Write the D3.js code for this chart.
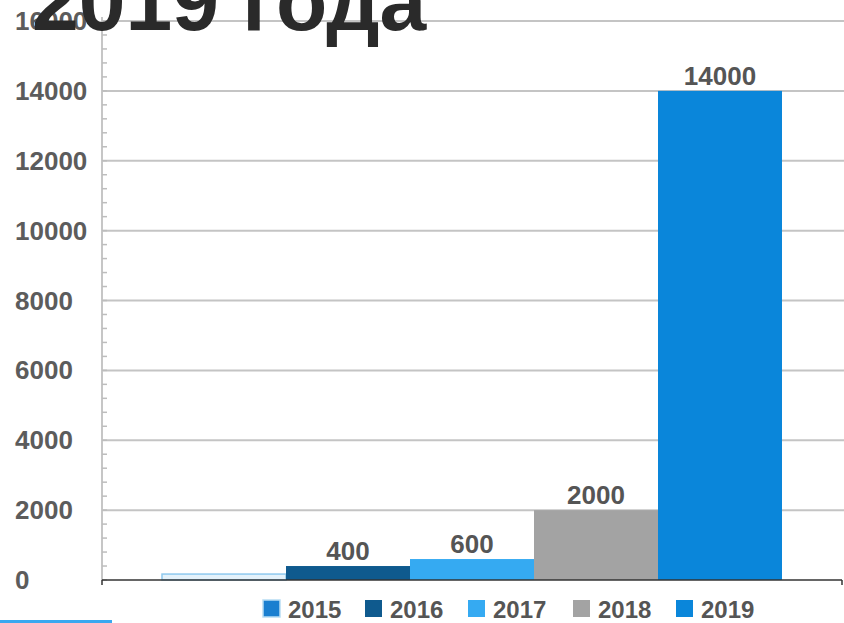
<!DOCTYPE html>
<html>
<head>
<meta charset="utf-8">
<script src="https://cdn.jsdelivr.net/npm/d3@7"></script>
<style>
  body { margin: 0; background: #fff; }
  svg { display: block; font-family: "Liberation Sans", Arial, sans-serif; }
</style>
</head>
<body>
<svg id="chart" width="844" height="623"></svg>
<script>
// Chart data
var years = ["2015", "2016", "2017", "2018", "2019"];
var values = [170, 400, 600, 2000, 14000];
var showLabel = [false, true, true, true, true];
var yTicks = [0, 2000, 4000, 6000, 8000, 10000, 12000, 14000, 16000];
var colors = ["#1a7fd0", "#0f5a8e", "#35aaf2", "#a3a3a3", "#0a86da"];

var svg = d3.select("#chart");

// Plot area (window.top is read-only, so use other names)
var pL = 102, pR = 842, pT = 21, pB = 580;

var yScale = d3.scaleLinear().domain([0, 16000]).range([pB, pT]);
var xScale = d3.scaleBand().domain(years).range([162, 782]).padding(0);

// Gridlines
svg.append("g").selectAll("line")
  .data(yTicks.filter(d => d > 0)).enter()
  .append("line")
  .attr("x1", pL).attr("x2", 844)
  .attr("y1", d => yScale(d)).attr("y2", d => yScale(d))
  .attr("stroke", "#c4c4c4").attr("stroke-width", 2);

// Y axis line and minor ticks
svg.append("line")
  .attr("x1", pL).attr("x2", pL)
  .attr("y1", pT - 4).attr("y2", pB)
  .attr("stroke", "#c6c6c6").attr("stroke-width", 2);

var minor = d3.range(0, 16001, 400);
svg.append("g").selectAll("line")
  .data(minor).enter()
  .append("line")
  .attr("x1", pL).attr("x2", pL + 5)
  .attr("y1", d => yScale(d)).attr("y2", d => yScale(d))
  .attr("stroke", "#bdbdbd").attr("stroke-width", 1.5);

// Y tick labels
svg.append("g").selectAll("text")
  .data(yTicks).enter()
  .append("text")
  .attr("x", 15)
  .attr("y", d => yScale(d) + 9)
  .attr("font-size", 26)
  .attr("font-weight", "bold")
  .attr("fill", "#5c5c5c")
  .text(d => d);

// Bars
svg.append("g").selectAll("rect")
  .data(years).enter()
  .append("rect")
  .attr("x", d => xScale(d))
  .attr("width", xScale.bandwidth())
  .attr("y", (d, i) => yScale(values[i]))
  .attr("height", (d, i) => pB - yScale(values[i]))
  .attr("fill", (d, i) => i === 0 ? "#e4f2fb" : colors[i])
  .attr("stroke", (d, i) => i === 0 ? "#8fc9ee" : "none")
  .attr("stroke-width", 1.5);

// Value labels
svg.append("g").selectAll("text")
  .data(years.filter((d, i) => showLabel[i])).enter()
  .append("text")
  .attr("x", d => xScale(d) + xScale.bandwidth() / 2)
  .attr("y", d => yScale(values[years.indexOf(d)]) - 6)
  .attr("text-anchor", "middle")
  .attr("font-size", 26)
  .attr("font-weight", "bold")
  .attr("fill", "#555")
  .text(d => values[years.indexOf(d)]);

// X axis line
svg.append("line")
  .attr("x1", pL).attr("x2", pR)
  .attr("y1", pB).attr("y2", pB)
  .attr("stroke", "#333").attr("stroke-width", 1.5);
svg.append("line")
  .attr("x1", pL).attr("x2", pL)
  .attr("y1", pB).attr("y2", pB + 5)
  .attr("stroke", "#333").attr("stroke-width", 1.5);
svg.append("line")
  .attr("x1", pR).attr("x2", pR)
  .attr("y1", pB).attr("y2", pB + 5)
  .attr("stroke", "#333").attr("stroke-width", 1.5);

// Legend
var legendX = [263, 365, 468, 573, 676];
var legend = svg.append("g").selectAll("g")
  .data(years).enter()
  .append("g")
  .attr("transform", (d, i) => `translate(${legendX[i]}, 600)`);

legend.append("rect")
  .attr("width", 17).attr("height", 17)
  .attr("fill", (d, i) => colors[i])
  .attr("stroke", (d, i) => i === 0 ? "#b8ddf4" : "none")
  .attr("stroke-width", 1.5);

legend.append("text")
  .attr("x", 25)
  .attr("y", 18)
  .attr("font-size", 24)
  .attr("font-weight", "bold")
  .attr("fill", "#555")
  .text(d => d);

// Title (cut off at top, as in the slide)
svg.append("text")
  .attr("x", 32)
  .attr("y", 30)
  .attr("font-size", 84)
  .attr("font-weight", "bold")
  .attr("fill", "#2a2a2a")
  .text("2019 года");

// Accent line bottom left
svg.append("rect")
  .attr("x", 0).attr("y", 620)
  .attr("width", 112).attr("height", 3)
  .attr("fill", "#3aa8f0");
</script>
</body>
</html>
